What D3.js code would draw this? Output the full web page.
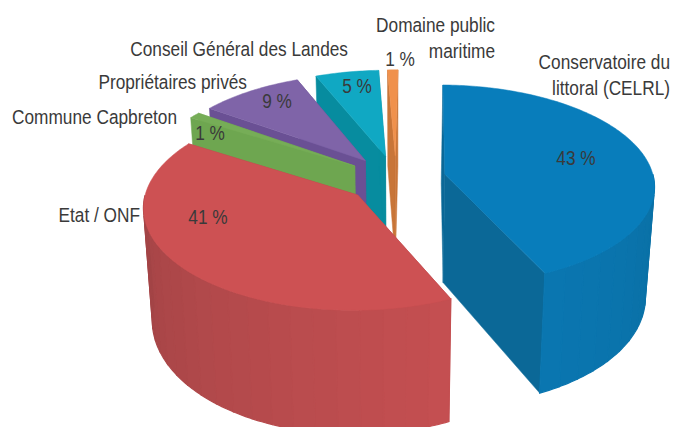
<!DOCTYPE html>
<html lang="fr">

<head>
    <meta charset="UTF-8">
    <title>Répartition foncière</title>
    <script src="https://d3js.org/d3.v7.min.js"></script>
    <style>
        html, body { margin: 0; padding: 0; background: #fff; overflow: hidden; }
        text { font-family: "Liberation Sans", sans-serif; fill: #3a3a3a; font-size: 19.5px; }
    </style>
</head>

<body>
    <div id="chart"></div>
    <script>
        // shares, printed labels below
        const categories = ["Conservatoire du littoral (CELRL)", "Etat / ONF", "Commune Capbreton", "Propriétaires privés", "Conseil Général des Landes", "Domaine public maritime"];
        const values = [43, 40.6, 1, 9, 5.5, 0.9];
        const valueLabels = ["43 %", "41 %", "1 %", "9 %", "5 %", "1 %"];

        // slice colours: top face, radial wall, outer wall (back end, front end)
        const topColors = ["#087dbb", "#cd5153", "#76ad57", "#7f64a8", "#10a8c3", "#f0914c"];
        const sideColors = ["#0b6897", "#b24a4c", "#6ea650", "#6a5094", "#078c9f", "#c87538"];
        const outerFrom = ["#0a70a5", "#c44f51", "#6ea650", "#6a5094", "#078c9f", "#c87538"];
        const outerTo = ["#0a76b0", "#a34446", "#6ea650", "#6a5094", "#078c9f", "#c87538"];

        // label placement, same order as the categories
        const nameLines = [["Conservatoire du", "littoral (CELRL)"], ["Etat / ONF"], ["Commune Capbreton"], ["Propriétaires privés"], ["Conseil Général des Landes"], ["Domaine public", "maritime"]];
        const nameX = [670, 140, 177, 247, 348, 495];
        const nameY = [69, 222, 124, 89, 56, 32];
        const valueX = [576, 208, 210, 277, 357, 400];
        const valueY = [165, 224, 140, 108, 93, 66];
        const lineStep = 26;
        const narrow = 0.885;     // the labels are set in a condensed face

        const width = 673, height = 427;
        const centre = { x: 396, y: 179 };
        const rotation = 0.8 * Math.PI / 180;
        const explode = 0.24;     // same pull-out for every slice
        const perspective = 0.105;
        const depth = 109;        // wall height
        const taper = 0.035;      // bottom ring is a little narrower

        const xScale = d3.scaleLinear().domain([0, 1]).range([0, 209]);
        const yScale = d3.scaleLinear().domain([0, 1]).range([0, 99.5]);

        // plane position (u to the right, v towards the viewer), z=0 top, z=1 bottom
        function project(u, v, z) {
            const s = 1 / (1 - perspective * v);
            return [
                centre.x + xScale(u) * s * (1 - taper * z),
                centre.y + yScale(v) * s + depth * z * s
            ];
        }

        const slices = d3.pie().sort(null).startAngle(rotation).endAngle(2 * Math.PI + rotation)(values);

        const svg = d3.select("#chart").append("svg")
            .attr("width", width)
            .attr("height", height)
            .style("display", "block");

        const line = d3.line();
        const closed = pts => line(pts) + "Z";

        // angles along an arc, stepDeg degrees apart at most
        function sweep(a0, a1, stepDeg) {
            const n = Math.max(2, Math.ceil((a1 - a0) / (stepDeg * Math.PI / 180)));
            return d3.range(n + 1).map(i => a0 + (a1 - a0) * i / n);
        }

        function drawSlice(d, i) {
            const g = svg.append("g").attr("class", "slice");
            const mid = (d.startAngle + d.endAngle) / 2;
            const ou = explode * Math.sin(mid), ov = -explode * Math.cos(mid);
            const apex = z => project(ou, ov, z);
            const rim = (a, z) => project(ou + Math.sin(a), ov - Math.cos(a), z);

            // radial walls
            [d.startAngle, d.endAngle].forEach(a => {
                g.append("path")
                    .attr("d", closed([apex(0), rim(a, 0), rim(a, 1), apex(1)]))
                    .attr("fill", sideColors[i])
                    .attr("stroke", sideColors[i])
                    .attr("stroke-width", 0.5);
            });

            // outer wall, only the part facing the viewer, in wide bands like the original
            const a0 = Math.max(d.startAngle, Math.PI / 2), a1 = Math.min(d.endAngle, 3 * Math.PI / 2);
            if (a1 > a0) {
                const shade = d3.interpolateRgb(outerFrom[i], outerTo[i]);
                const angles = sweep(a0, a1, 6);
                d3.pairs(angles).forEach(([p, q], k) => {
                    const c = shade(k / (angles.length - 2));
                    const arc = sweep(p, q, 1);
                    const upper = arc.map(a => rim(a, 0));
                    const lower = arc.slice().reverse().map(a => rim(a, 1));
                    g.append("path")
                        .attr("d", closed(upper.concat(lower)))
                        .attr("fill", c)
                        .attr("stroke", c)
                        .attr("stroke-width", 1.2);
                });
            }

            // top face
            const rimPts = sweep(d.startAngle, d.endAngle, 1).map(a => rim(a, 0));
            g.append("path")
                .attr("d", closed([apex(0)].concat(rimPts)))
                .attr("fill", topColors[i])
                .attr("stroke", topColors[i])
                .attr("stroke-width", 0.5);
        }

        // back to front
        const drawOrder = [5, 4, 3, 2, 0, 1];
        drawOrder.forEach(i => drawSlice(slices[i], i));

        // the labels are condensed with a horizontal scale
        function placeText(t, x, y, anchor) {
            svg.append("text")
                .attr("transform", `translate(${x},${y}) scale(${narrow},1)`)
                .attr("text-anchor", anchor)
                .text(t);
        }

        // names
        categories.forEach((name, i) => {
            nameLines[i].forEach((t, k) => {
                placeText(t, nameX[i], nameY[i] + k * lineStep, "end");
            });
        });

        // percentages
        valueLabels.forEach((t, i) => {
            placeText(t, valueX[i], valueY[i], "middle");
        });
    </script>
</body>

</html>
